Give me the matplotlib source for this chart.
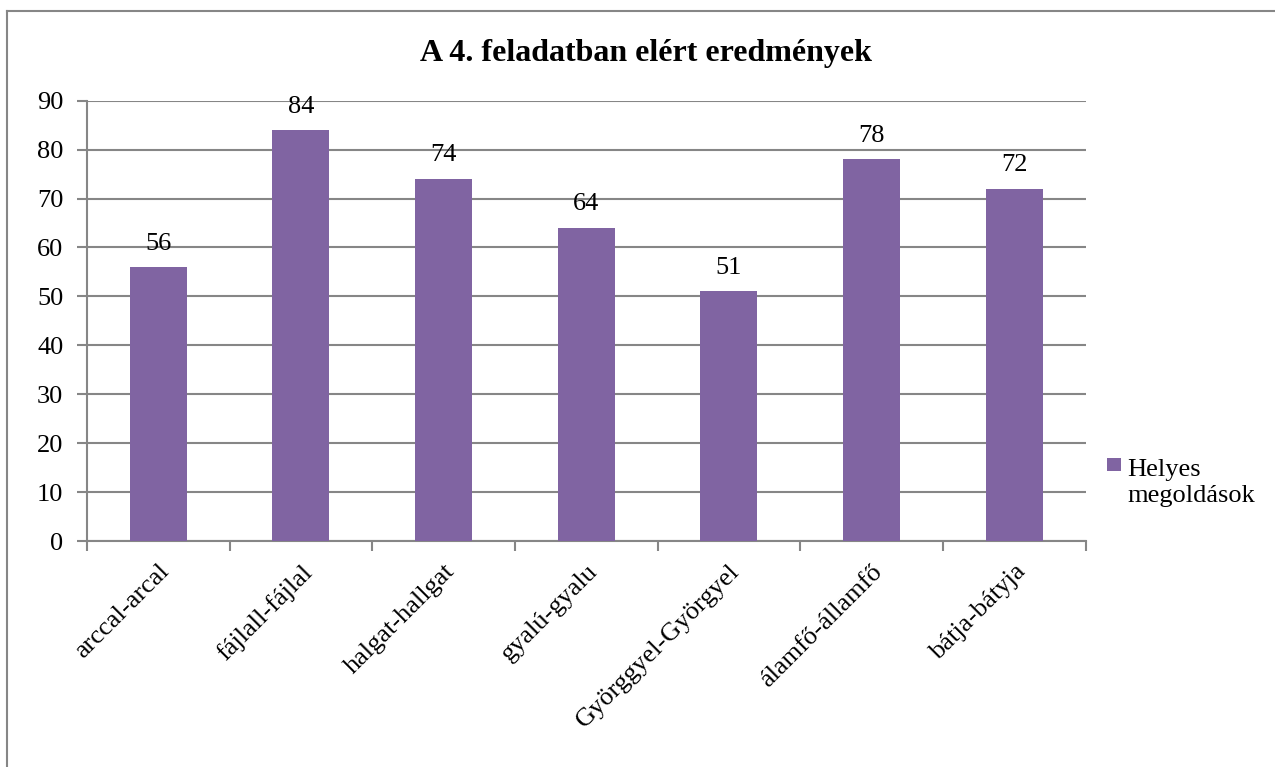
import matplotlib
matplotlib.use("Agg")
import matplotlib.pyplot as plt
from matplotlib.lines import Line2D
from matplotlib.patches import Rectangle

categories = ["arccal-arcal", "fájlall-fájlal", "halgat-hallgat", "gyalú-gyalu",
              "Györggyel-Györgyel", "álamfő-államfő", "bátja-bátyja"]
values = [56, 84, 74, 64, 51, 78, 72]
series_name = "Helyes\nmegoldások"
title = "A 4. feladatban elért eredmények"
yticks = [0, 10, 20, 30, 40, 50, 60, 70, 80, 90]

W, H = 1275, 767
plt.rcParams['font.family'] = ['Liberation Serif', 'DejaVu Serif']
fig = plt.figure(figsize=(W / 100, H / 100), dpi=100)

FS = 19
L, R, T, B = 87, 1085.5, 100.7, 541
ax = fig.add_axes([L / W, 1 - B / H, (R - L) / W, (B - T) / H])

bar_color = "#8064A2"
axis_color = "#868686"
x = list(range(len(categories)))
bars = ax.bar(x, values, width=0.4, color=bar_color, zorder=3)

ax.set_xlim(-0.5, len(categories) - 0.5)
ax.set_ylim(0, 90)
ax.set_yticks(yticks)
ax.set_yticklabels([str(v) for v in yticks], fontsize=FS)
ax.yaxis.grid(True, color=axis_color, linewidth=1.5, zorder=0)
ax.set_axisbelow(True)

ax.set_xticks([i - 0.5 for i in range(len(categories) + 1)], minor=False)
ax.set_xticklabels([""] * (len(categories) + 1))
ax.set_xticks(x, minor=True)
ax.set_xticklabels(categories, minor=True, rotation=45, ha='right',
                   rotation_mode='anchor', fontsize=FS)
ax.tick_params(axis='x', which='minor', length=0, pad=14)
ax.tick_params(axis='x', which='major', length=7, width=1.5, color=axis_color)
ax.tick_params(axis='y', length=7, width=1.5, color=axis_color, pad=10)

for s in ['top', 'right']:
    ax.spines[s].set_visible(False)
for s in ['left', 'bottom']:
    ax.spines[s].set_color(axis_color)
    ax.spines[s].set_linewidth(1.5)

for b, v in zip(bars, values):
    ax.annotate(str(v), (b.get_x() + b.get_width() / 2, v), xytext=(0, 9),
                textcoords='offset points', ha='center', va='bottom', fontsize=FS)

fig.text(646 / W, 1 - 53 / H, title, ha='center', va='center',
         fontsize=23, fontweight='bold')

# legend (drawn manually so the key aligns with the first line, as in the original)
fig.add_artist(Rectangle((1107 / W, 1 - 471 / H), 14 / W, 13 / H,
                         transform=fig.transFigure, facecolor=bar_color,
                         edgecolor='none'))
fig.text(1127 / W, 1 - 502 / H, series_name, ha='left', va='baseline',
         fontsize=FS, linespacing=1.25)

# outer chart border (left and top visible)
fig.add_artist(Line2D([7 / W, 7 / W], [0, 1 - 11 / H], transform=fig.transFigure,
                      color=axis_color, linewidth=1.5))
fig.add_artist(Line2D([7 / W, 1], [1 - 11 / H, 1 - 11 / H], transform=fig.transFigure,
                      color=axis_color, linewidth=1.5))

fig.savefig("out.png", dpi=100, facecolor='white')
